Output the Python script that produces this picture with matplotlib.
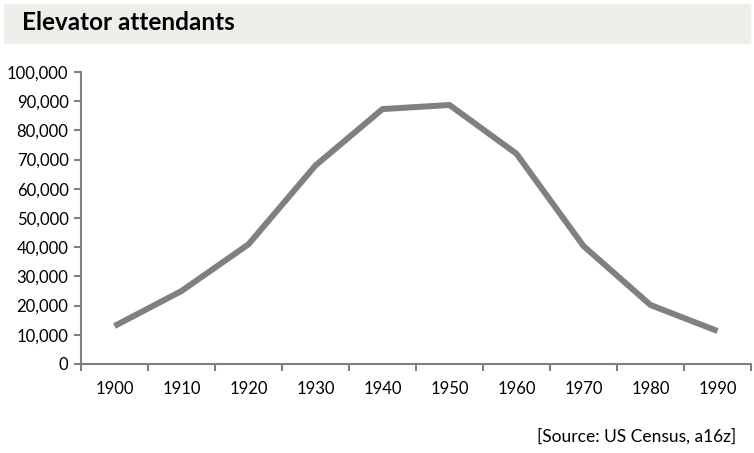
import matplotlib.pyplot as plt
from matplotlib.patches import Rectangle
from matplotlib.ticker import FuncFormatter, MultipleLocator

YEARS = ['1900', '1910', '1920', '1930', '1940', '1950', '1960', '1970', '1980', '1990']
ATTENDANTS = [13000, 25000, 41000, 68000, 87300, 88700, 72000, 40400, 20200, 11300]

TITLE = 'Elevator attendants'
SOURCE = '[Source: US Census, a16z]'

GREY = '#808080'
plt.rcParams['font.family'] = ['Lato', 'DejaVu Sans']


def main():
    fig = plt.figure(figsize=(7.54, 4.53), dpi=100)
    W, H = 754, 453

    # title bar
    fig.patches.append(Rectangle((4 / W, 1 - 43 / H), 746 / W, 39 / H,
                                 transform=fig.transFigure, color='#f0eeeb', zorder=0))
    fig.text(22 / W, 1 - 22 / H, TITLE, fontsize=17.5, fontweight='bold',
             va='center', ha='left', color='black')

    ax = fig.add_axes([81 / W, 1 - 364 / H, 670 / W, 292 / H])
    x = list(range(len(YEARS)))
    ax.plot(x, ATTENDANTS, color=GREY, lw=4.3, solid_capstyle='butt')

    ax.set_xlim(-0.5, len(YEARS) - 0.5)
    ax.set_ylim(0, 100000)
    ax.yaxis.set_major_locator(MultipleLocator(10000))
    ax.yaxis.set_major_formatter(FuncFormatter(lambda v, p: f'{int(v):,}'))

    ax.set_xticks([i + 0.5 for i in range(len(YEARS) - 1)] + [-0.5, len(YEARS) - 0.5])
    ax.set_xticklabels([])
    ax.set_xticks(x, minor=True)
    ax.set_xticklabels(YEARS, minor=True)
    ax.tick_params(axis='x', which='minor', length=0, pad=12, labelsize=12)
    ax.tick_params(axis='x', which='major', length=5, color=GREY, width=1.5)
    ax.tick_params(axis='y', length=5, color=GREY, width=1.5, labelsize=12, pad=4)

    for s in ['top', 'right']:
        ax.spines[s].set_visible(False)
    for s in ['left', 'bottom']:
        ax.spines[s].set_color(GREY)
        ax.spines[s].set_linewidth(1.5)

    fig.text(736 / W, 1 - 436 / H, SOURCE, fontsize=12.5, ha='right', va='center',
             color='black')

    fig.savefig('out.png', dpi=100)


if __name__ == '__main__':
    main()
